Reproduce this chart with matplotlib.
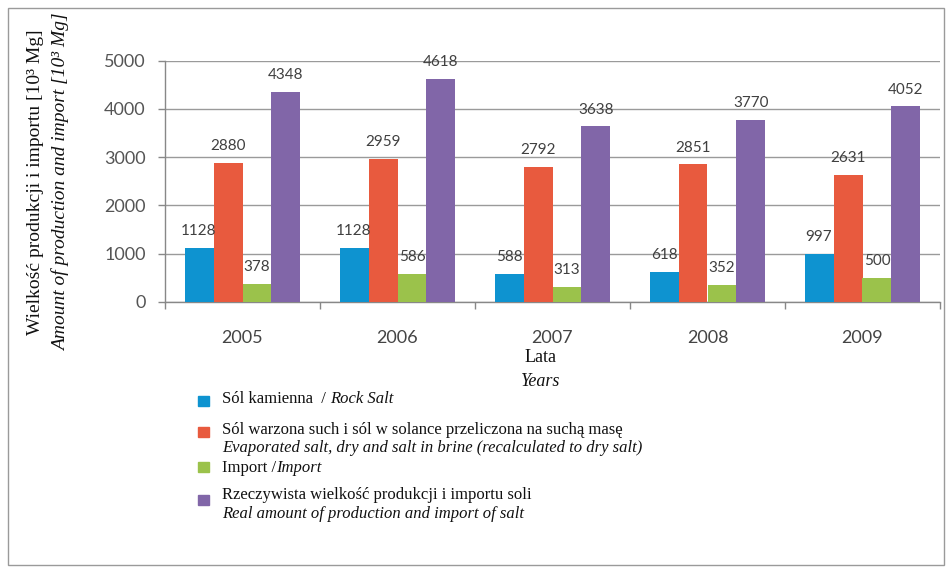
import matplotlib
matplotlib.use("Agg")
import matplotlib.pyplot as plt
from matplotlib.patches import Rectangle
import numpy as np

years = ["2005", "2006", "2007", "2008", "2009"]
rock_salt = [1128, 1128, 588, 618, 997]
evaporated = [2880, 2959, 2792, 2851, 2631]
imports = [378, 586, 313, 352, 500]
real_total = [4348, 4618, 3638, 3770, 4052]

series = [rock_salt, evaporated, imports, real_total]
colors = ["#0E93D0", "#E85A3E", "#9BC24B", "#8166A8"]
legend_roman = ["Sól kamienna  / ", "Sól warzona such i sól w solance przeliczona na suchą masę",
                "Import /", "Rzeczywista wielkość produkcji i importu soli"]
legend_italic = ["Rock Salt", "Evaporated salt, dry and salt in brine (recalculated to dry salt)",
                 "Import", "Real amount of production and import of salt"]
yticks = [0, 1000, 2000, 3000, 4000, 5000]

W, H = 949, 570
fig = plt.figure(figsize=(W / 100, H / 100), dpi=100)
fig.patch.set_facecolor("white")

def fx(px):
    return px / W

def fy(py):
    return 1 - py / H

# outer frame
fig.patches.append(Rectangle((fx(8), fy(565)), fx(944) - fx(8), fy(8) - fy(565),
                             transform=fig.transFigure, fill=False,
                             edgecolor="#9a9a9a", lw=1.0))

ax = fig.add_axes([fx(165), fy(302), fx(940) - fx(165), fy(60.5) - fy(302)])
x = np.arange(len(years))
w = 0.187
offsets = [-1.5, -0.5, 0.5, 1.5]
tick_font = "Lato"
for s, c, o in zip(series, colors, offsets):
    bars = ax.bar(x + o * w, s, width=w, color=c, zorder=3)
    for b, v in zip(bars, s):
        ax.annotate(str(v), (b.get_x() + b.get_width() / 2, v),
                    xytext=(0, 7), textcoords="offset points",
                    ha="center", va="bottom", fontsize=11,
                    color="#404040", family=tick_font, annotation_clip=False,
                    zorder=4)

ax.set_xlim(-0.5, len(years) - 0.5)
ax.set_ylim(0, 5000)
ax.set_yticks(yticks)
ax.set_yticklabels([str(t) for t in yticks], family=tick_font, fontsize=13, color="#555555")
ax.set_xticks(x)
ax.set_xticklabels(years, family=tick_font, fontsize=13, color="#444444")
ax.set_xticks(np.arange(-0.5, len(years)), minor=True)
ax.tick_params(axis="x", which="major", length=0, pad=20)
ax.tick_params(axis="x", which="minor", length=5, color="#888888", width=1)
ax.tick_params(axis="y", length=5, color="#888888", width=1, pad=9)
ax.grid(axis="y", color="#9a9a9a", lw=1, zorder=0)
for sp in ["top", "right"]:
    ax.spines[sp].set_visible(False)
for sp in ["left", "bottom"]:
    ax.spines[sp].set_color("#888888")
    ax.spines[sp].set_linewidth(1)

serif = "Liberation Serif"
# y-axis label (two lines)
fig.text(fx(36), fy(182), "Wielkość produkcji i importu [10³ Mg]", rotation=90,
         ha="center", va="center", family=serif, fontsize=14, color="#111111")
fig.text(fx(61), fy(182), "Amount of production and import [10³ Mg]", rotation=90,
         ha="center", va="center", family=serif, style="italic", fontsize=14, color="#111111")

# x-axis label
fig.text(fx(541), fy(358), "Lata", ha="center", va="center", family=serif, fontsize=13, color="#111111")
fig.text(fx(541), fy(382), "Years", ha="center", va="center", family=serif, style="italic",
         fontsize=13, color="#111111")

# legend
text_x = 222
entries = [
    (401, [(399, legend_roman[0], legend_italic[0])]),
    (432, [(430, legend_roman[1], None), (448, None, legend_italic[1])]),
    (467, [(468, legend_roman[2], legend_italic[2])]),
    (500, [(495, legend_roman[3], None), (514, None, legend_italic[3])]),
]
for (sq_y, lines), c in zip(entries, colors):
    fig.patches.append(Rectangle((fx(198), fy(sq_y + 5)), fx(11), 10 / H,
                                 transform=fig.transFigure, color=c))
    for ly, rom, ita in lines:
        if rom is not None:
            t = fig.text(fx(text_x), fy(ly), rom, ha="left", va="center",
                         family=serif, fontsize=12, color="#111111")
            if ita is not None:
                fig.text(0, 0, ita, transform=fig.transFigure, family=serif,
                         style="italic", fontsize=12, color="#111111")
                fig.texts[-1].remove()
                ax.annotate(ita, xy=(1, 0), xycoords=t, xytext=(0, 0),
                            textcoords="offset points", ha="left", va="bottom",
                            family=serif, style="italic", fontsize=12,
                            color="#111111", annotation_clip=False)
        else:
            fig.text(fx(text_x), fy(ly), ita, ha="left", va="center",
                     family=serif, style="italic", fontsize=12, color="#111111")

fig.savefig("out.png", dpi=100)
